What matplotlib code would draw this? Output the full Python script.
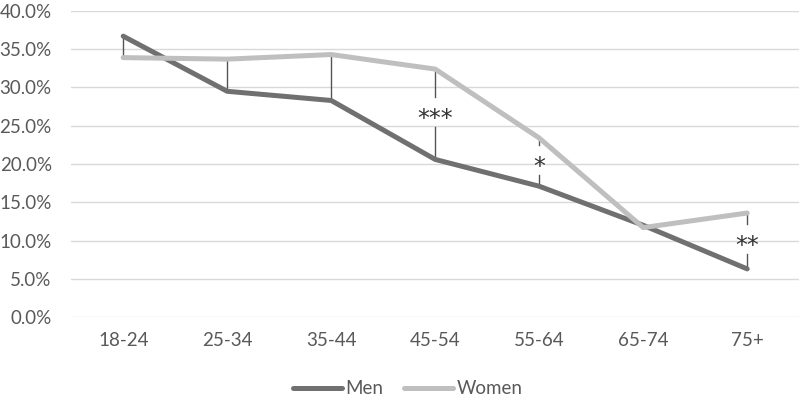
import numpy as np
import matplotlib
matplotlib.use('Agg')
import matplotlib.pyplot as plt

ages = ['18-24', '25-34', '35-44', '45-54', '55-64', '65-74', '75+']
men = [36.7, 29.5, 28.3, 20.6, 17.1, 12.0, 6.3]
women = [33.9, 33.7, 34.3, 32.4, 23.4, 11.7, 13.6]
stars = ['', '', '', '***', '*', '', '**']

plt.rcParams['font.family'] = ['Lato', 'DejaVu Sans']

fig = plt.figure(figsize=(8, 4.04), dpi=100)
ax = fig.add_axes([0.089, 0.215, 0.910, 0.758])

x = np.arange(len(ages))

# connectors between the two series, broken where a significance mark sits
for i in range(len(ages)):
  lo, hi = min(men[i], women[i]), max(men[i], women[i])
  if hi - lo < 0.5:
    continue
  if stars[i]:
    mid = (lo + hi) / 2
    ax.plot([x[i], x[i]], [mid + 2.2, hi], color='#555555', lw=1, zorder=2)
    ax.plot([x[i], x[i]], [lo, mid - 1.7], color='#555555', lw=1, zorder=2)
    ax.text(x[i], mid - 0.6, stars[i], ha='center', va='center',
            fontsize=17, color='#333333', family='DejaVu Sans')
  else:
    ax.plot([x[i], x[i]], [lo, hi], color='#555555', lw=1, zorder=2)

ax.plot(x, men, color='#707070', lw=3.6, label='Men', zorder=3,
        solid_capstyle='round')
ax.plot(x, women, color='#bfbfbf', lw=3.6, label='Women', zorder=3,
        solid_capstyle='round')

ax.set_xlim(-0.5, len(ages) - 0.5)
ax.set_ylim(0, 40)
ax.set_yticks(np.arange(0, 41, 5))
ax.set_yticklabels(['%.1f%%' % v for v in np.arange(0, 41, 5)])
ax.set_xticks(x)
ax.set_xticklabels(ages)
ax.tick_params(length=0, labelsize=13.5, colors='#595959')
ax.tick_params(axis='x', pad=11)
ax.tick_params(axis='y', pad=14)
ax.grid(axis='y', color='#d9d9d9', lw=1)
ax.set_axisbelow(True)
for s in ax.spines.values():
  s.set_visible(False)

leg = fig.legend(loc='lower center', bbox_to_anchor=(0.51, -0.025), ncol=2,
                 frameon=False, fontsize=13.5, handlelength=2.6,
                 handletextpad=0.2, columnspacing=1.1)
for t in leg.get_texts():
  t.set_color('#595959')

plt.savefig('out.png', dpi=100)
